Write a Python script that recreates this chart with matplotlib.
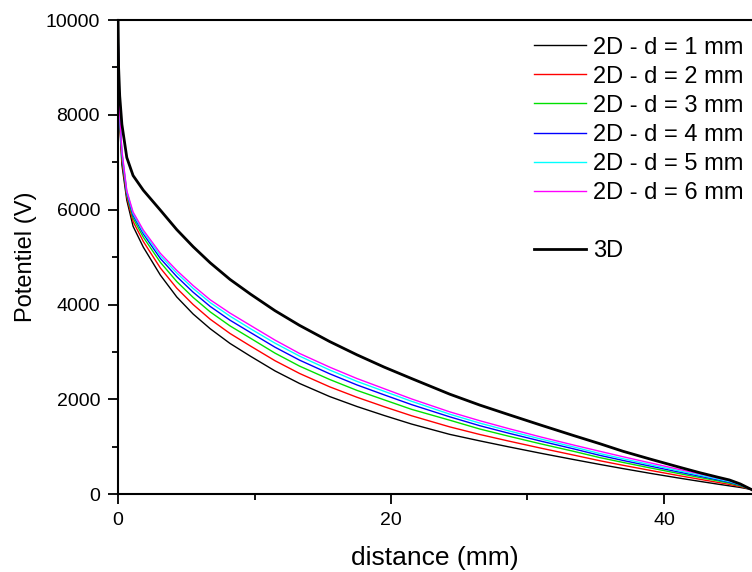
import matplotlib
matplotlib.use("Agg")
import matplotlib.pyplot as plt
from matplotlib.lines import Line2D
from matplotlib.ticker import MultipleLocator

plt.rcParams['font.family'] = ['Liberation Sans', 'DejaVu Sans']

# distance (mm)
dist = [0, 0.04, 0.12, 0.28, 0.64, 1.1, 1.85, 3.1, 4.3, 5.5, 6.75, 8.2, 9.7,
        11.5, 13.3, 15.5, 17.5, 19.5, 21.5, 24.3, 26.5, 28.6, 31, 33.4, 35.3,
        37, 39, 41, 42.6, 44, 44.8, 45.6, 46.4]

# potentiel (V) for each 2D gap d and for 3D
pot_d1 = [10000, 8800, 7800, 6950, 6200, 5650, 5210, 4620, 4160, 3800, 3490, 3180, 2910,
          2600, 2335, 2060, 1850, 1660, 1480, 1262, 1125, 1000, 862, 730, 628,
          540, 440, 345, 272, 210, 176, 142, 100]
pot_d2 = [10000, 8870, 7870, 7050, 6270, 5750, 5330, 4770, 4345, 4000, 3690, 3390, 3125,
          2815, 2546, 2265, 2045, 1845, 1655, 1420, 1260, 1122, 970, 824, 706,
          610, 502, 397, 316, 246, 206, 161, 100]
pot_d3 = [10000, 8920, 7920, 7120, 6320, 5820, 5420, 4890, 4485, 4150, 3845, 3550, 3290,
          2975, 2701, 2420, 2190, 1990, 1790, 1561, 1375, 1225, 1060, 903, 772,
          670, 554, 441, 354, 278, 233, 177, 100]
pot_d4 = [10000, 8950, 7950, 7180, 6350, 5880, 5490, 4970, 4590, 4260, 3960, 3670, 3410,
          3100, 2827, 2540, 2305, 2095, 1890, 1632, 1445, 1288, 1118, 955, 819,
          712, 592, 473, 381, 300, 251, 189, 100]
pot_d5 = [10000, 8980, 7980, 7220, 6380, 5920, 5530, 5030, 4665, 4340, 4040, 3755, 3490,
          3185, 2912, 2620, 2380, 2170, 1960, 1688, 1500, 1338, 1162, 995, 858,
          748, 623, 499, 403, 318, 266, 198, 100]
pot_d6 = [10000, 9000, 8000, 7250, 6400, 5950, 5570, 5080, 4720, 4400, 4100, 3820, 3560,
          3250, 2968, 2680, 2440, 2225, 2010, 1737, 1550, 1385, 1205, 1035, 905,
          790, 660, 530, 430, 340, 285, 210, 100]
pot_3d = [10000, 9000, 8400, 7800, 7100, 6720, 6410, 5990, 5580, 5220, 4880, 4530, 4220,
          3870, 3560, 3220, 2940, 2680, 2440, 2110, 1880, 1680, 1455, 1235, 1065,
          905, 740, 580, 455, 355, 300, 215, 100]

labels_2d = ['2D - d = 1 mm', '2D - d = 2 mm', '2D - d = 3 mm',
             '2D - d = 4 mm', '2D - d = 5 mm', '2D - d = 6 mm']
colors_2d = ['black', '#FF0000', '#00E000', '#0000FF', '#00FFFF', '#FF00FF']
series_2d = [pot_d1, pot_d2, pot_d3, pot_d4, pot_d5, pot_d6]


def main():
    fig = plt.figure(figsize=(7.52, 5.72), dpi=100)
    ax = fig.add_axes([0.157, 0.136, 0.843, 0.829])

    handles = []
    for vals, col, lab in zip(series_2d, colors_2d, labels_2d):
        h, = ax.plot(dist, vals, color=col, lw=1.0, label=lab)
        handles.append(h)
    h3d, = ax.plot(dist, pot_3d, color='black', lw=2.0, label='3D')

    # blank row between the 2D entries and 3D
    blank = Line2D([], [], color='none')
    handles += [blank, h3d]
    labels = labels_2d + [' ', '3D']
    ax.legend(handles, labels, loc='upper right', frameon=False, fontsize=17,
              handlelength=2.2, handletextpad=0.28, labelspacing=0.30,
              borderpad=0.2, borderaxespad=0.5, bbox_to_anchor=(1.012, 1.0))

    ax.set_xlim(0, 46.45)
    ax.set_ylim(0, 10000)
    ax.xaxis.set_major_locator(MultipleLocator(20))
    ax.xaxis.set_minor_locator(MultipleLocator(10))
    ax.yaxis.set_major_locator(MultipleLocator(2000))
    ax.yaxis.set_minor_locator(MultipleLocator(1000))
    ax.tick_params(which='both', direction='out', width=1.3, labelsize=14, top=False, right=False)
    ax.tick_params(which='major', length=7, pad=6)
    ax.tick_params(which='minor', length=4.5)

    for s in ['left', 'bottom', 'top']:
        ax.spines[s].set_linewidth(1.5)
    ax.spines['right'].set_visible(False)

    ax.set_xlabel('distance (mm)', fontsize=19, labelpad=12)
    ax.set_ylabel('Potentiel (V)', fontsize=17, labelpad=6)

    fig.savefig('out.png', dpi=100)
    plt.close(fig)


if __name__ == "__main__":
    main()
